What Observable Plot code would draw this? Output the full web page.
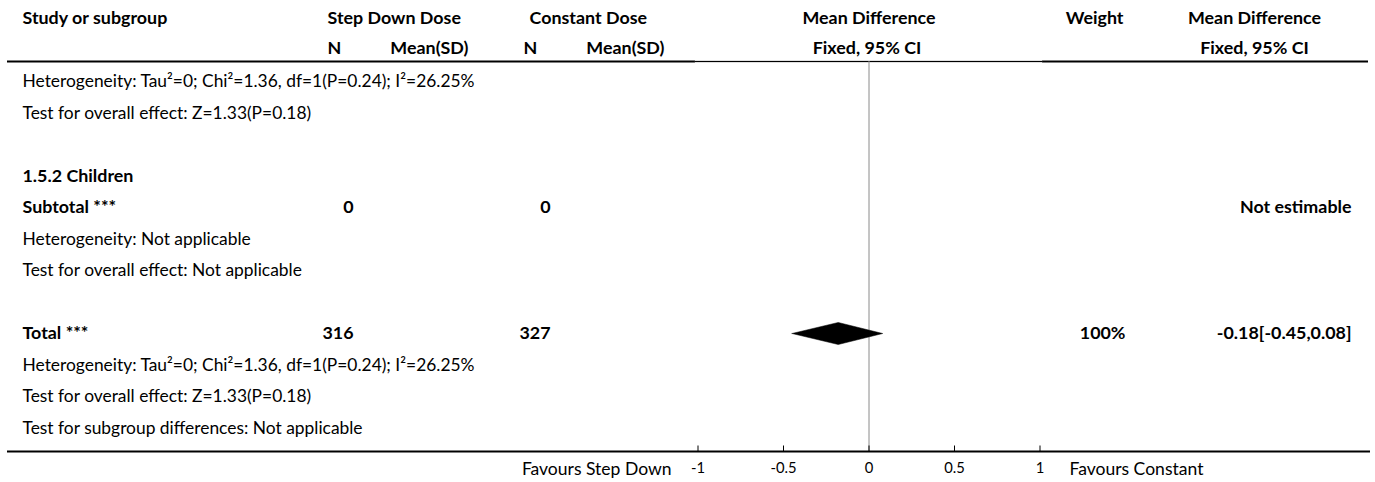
<!DOCTYPE html>
<html>
<head>
<meta charset="utf-8">
<script src="https://cdn.jsdelivr.net/npm/d3@7"></script>
<script src="https://cdn.jsdelivr.net/npm/@observablehq/plot@0.6"></script>
<style>
  html, body { margin: 0; padding: 0; background: #fff; }
  #chart svg { display: block; }
</style>
</head>
<body>
<div id="chart"></div>
<script>
// ---------- data ----------
const studyLabels = [
  "Heterogeneity: Tau\u00B2=0; Chi\u00B2=1.36, df=1(P=0.24); I\u00B2=26.25%",
  "Test for overall effect: Z=1.33(P=0.18)",
  "1.5.2 Children",
  "Subtotal ***",
  "Heterogeneity: Not applicable",
  "Test for overall effect: Not applicable",
  "Total ***",
  "Heterogeneity: Tau\u00B2=0; Chi\u00B2=1.36, df=1(P=0.24); I\u00B2=26.25%",
  "Test for overall effect: Z=1.33(P=0.18)",
  "Test for subgroup differences: Not applicable"
];
const studyRows = [0, 1, 3, 4, 5, 6, 8, 9, 10, 11];
const studyBold = [false, false, true, true, false, false, true, false, false, false];

const summaryRows = [4, 8];
const nStepDown = [0, 316];
const nConstant = [0, 327];
const weightText = ["", "100%"];
const effectText = ["Not estimable", "-0.18[-0.45,0.08]"];

const diamondRow = 8;
const diamondEst = -0.18;
const diamondLo = -0.45;
const diamondHi = 0.08;

const xTicks = [-1, -0.5, 0, 0.5, 1];
const xTickLabels = ["-1", "-0.5", "0", "0.5", "1"];
const favoursLeft = "Favours Step Down";
const favoursRight = "Favours Constant";

// ---------- layout ----------
const W = 1375, H = 482;
const rowTop = 81, rowPitch = 31.5;
const rowOf = px => (px - rowTop) / rowPitch;
const headerRow1 = rowOf(17.5), headerRow2 = rowOf(47.5);
const headerLineRow = rowOf(61);
const axisPx = 451;
const FONT = "Lato";

// font calibration
const ctx = document.createElement("canvas").getContext("2d");
function fit(str, target, weight) {
  ctx.font = `${weight} 100px ${FONT}`;
  return 100 * target / ctx.measureText(str).width;
}
const avg = a => a.reduce((s, v) => s + v, 0) / a.length;
const regSize = avg([
  fit(studyLabels[0], 448, "normal"),
  fit(studyLabels[1], 285, "normal"),
  fit(studyLabels[4], 232, "normal"),
  fit(studyLabels[5], 283, "normal")
]);
const boldSize = avg([
  fit("Study or subgroup", 151, "bold"),
  fit("Mean Difference", 130, "bold"),
  fit("Step Down Dose", 131, "bold"),
  fit("-0.18[-0.45,0.08]", 134, "bold"),
  fit("Not estimable", 113, "bold")
]);
const favSize = fit(favoursRight, 134, "normal");
const tickSize = regSize * 0.85;

const idx = d3.range(studyLabels.length);
const sIdx = d3.range(summaryRows.length);

const diamondPts = [
  {x: diamondLo, y: diamondRow},
  {x: diamondEst, y: diamondRow - 0.35},
  {x: diamondHi, y: diamondRow},
  {x: diamondEst, y: diamondRow + 0.35},
  {x: diamondLo, y: diamondRow}
];

const colText = (data, opts) => Plot.text(data, {frameAnchor: "left", fill: "black", ...opts});

const headers1 = [
  {t: "Study or subgroup", dx: 22, a: "start"},
  {t: "Step Down Dose", dx: 327, a: "start"},
  {t: "Constant Dose", dx: 529, a: "start"},
  {t: "Weight", dx: 1123, a: "end"},
  {t: "Mean Difference", dx: 1254, a: "middle"}
];
const headers2 = [
  {t: "N", dx: 327, a: "start"},
  {t: "Mean(SD)", dx: 468, a: "end"},
  {t: "N", dx: 523, a: "start"},
  {t: "Mean(SD)", dx: 664, a: "end"},
  {t: "Fixed, 95% CI", dx: 1254, a: "middle"}
];

const marks = [];
// header texts
for (const h of headers1) marks.push(colText([h.t], {y: () => headerRow1, text: d => d, dx: h.dx, textAnchor: h.a, fontWeight: "bold", fontSize: boldSize}));
for (const h of headers2) marks.push(colText([h.t], {y: () => headerRow2, text: d => d, dx: h.dx, textAnchor: h.a, fontWeight: "bold", fontSize: boldSize}));
marks.push(Plot.text(["Mean Difference"], {x: () => 0, y: () => headerRow1, text: d => d, textAnchor: "middle", fontWeight: "bold", fontSize: boldSize, fill: "black"}));
marks.push(Plot.text(["Fixed, 95% CI"], {x: () => 0, y: () => headerRow2, text: d => d, dx: -2, textAnchor: "middle", fontWeight: "bold", fontSize: boldSize, fill: "black"}));

// header line
marks.push(Plot.ruleY([headerLineRow], {insetLeft: 7, insetRight: 7, stroke: "black", strokeWidth: 2}));
marks.push(Plot.ruleY([headerLineRow], {x1: -1.015, x2: 1.015, stroke: "white", strokeWidth: 2.5}));
marks.push(Plot.ruleY([headerLineRow], {x1: -1.015, x2: 1.015, stroke: "black", strokeWidth: 1}));

// zero line
marks.push(Plot.ruleX([0], {y1: headerLineRow, y2: rowOf(axisPx), stroke: "#8a8a8a", strokeWidth: 1}));

// study / subgroup labels
marks.push(colText(idx.filter(i => !studyBold[i]), {y: i => studyRows[i], text: i => studyLabels[i], dx: 22, textAnchor: "start", fontSize: regSize}));
marks.push(colText(idx.filter(i => studyBold[i]), {y: i => studyRows[i], text: i => studyLabels[i], dx: 22, textAnchor: "start", fontWeight: "bold", fontSize: boldSize}));

// N columns, weight, effect
marks.push(colText(sIdx, {y: i => summaryRows[i], text: i => String(nStepDown[i]), dx: 353, textAnchor: "end", fontWeight: "bold", fontSize: boldSize}));
marks.push(colText(sIdx, {y: i => summaryRows[i], text: i => String(nConstant[i]), dx: 550, textAnchor: "end", fontWeight: "bold", fontSize: boldSize}));
marks.push(colText(sIdx, {y: i => summaryRows[i], text: i => weightText[i], dx: 1125, textAnchor: "end", fontWeight: "bold", fontSize: boldSize}));
marks.push(colText(sIdx, {y: i => summaryRows[i], text: i => effectText[i], dx: 1351, textAnchor: "end", fontWeight: "bold", fontSize: boldSize}));

// diamond
marks.push(Plot.line(diamondPts, {x: "x", y: "y", fill: "black", stroke: "black", strokeWidth: 0.5, curve: "linear"}));

// bottom axis line and ticks
marks.push(Plot.ruleY([rowOf(axisPx)], {insetLeft: 7, insetRight: 5, stroke: "black", strokeWidth: 2}));
marks.push(Plot.ruleX(xTicks, {x: d => d, y1: rowOf(axisPx - 5.5), y2: rowOf(axisPx), stroke: "black", strokeWidth: 1}));
marks.push(Plot.axisX(xTicks, {anchor: "bottom", tickSize: 0, tickPadding: 11, tickFormat: (d) => xTickLabels[xTicks.indexOf(d)], fontSize: tickSize, label: null, fill: "black"}));

// favours labels
marks.push(colText([favoursLeft], {y: () => rowOf(469), text: d => d, dx: 671, textAnchor: "end", fontSize: favSize}));
marks.push(colText([favoursRight], {y: () => rowOf(469), text: d => d, dx: 1069, textAnchor: "start", fontSize: favSize}));

const chart = Plot.plot({
  width: W,
  height: H,
  marginTop: 0,
  marginLeft: 0,
  marginRight: 0,
  marginBottom: H - axisPx,
  x: {domain: [-1, 1], range: [697.5, 1039.5]},
  y: {domain: [0, 11], range: [rowTop, rowTop + 11 * rowPitch], axis: null},
  style: {fontFamily: FONT, background: "white", color: "black", overflow: "visible"},
  marks
});
document.getElementById("chart").appendChild(chart);
</script>
</body>
</html>
